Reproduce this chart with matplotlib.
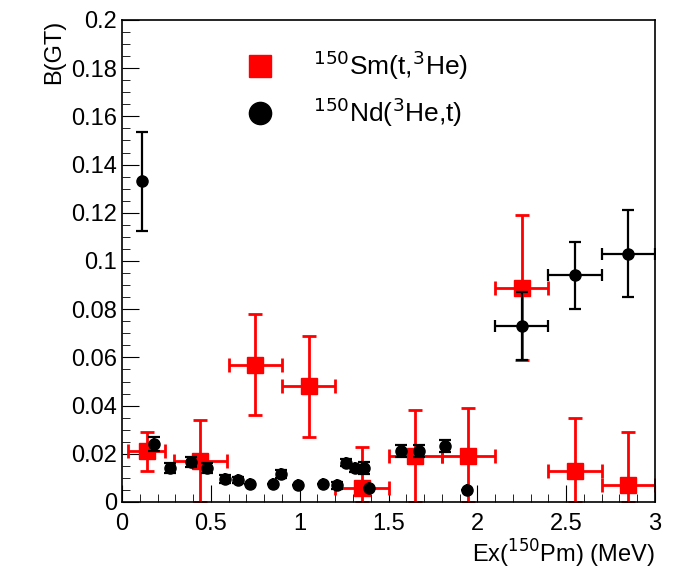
import numpy as np
import matplotlib.pyplot as plt
from matplotlib.ticker import MultipleLocator
from matplotlib.lines import Line2D

plt.rcParams['font.family'] = ['Liberation Sans', 'DejaVu Sans']

# 150Sm(t,3He)
sm_x = [0.14, 0.44, 0.75, 1.05, 1.35, 1.65, 1.95, 2.25, 2.55, 2.85]
sm_y = [0.021, 0.017, 0.057, 0.048, 0.006, 0.019, 0.019, 0.089, 0.013, 0.007]
sm_yerr = [0.008, 0.017, 0.021, 0.021, 0.017, 0.019, 0.020, 0.030, 0.022, 0.022]
sm_xlo = [0.105, 0.15, 0.15, 0.15, 0.15, 0.15, 0.15, 0.15, 0.15, 0.15]
sm_xhi = [0.10, 0.15, 0.15, 0.15, 0.15, 0.15, 0.15, 0.15, 0.15, 0.15]

# 150Nd(3He,t)
nd_x = [0.11, 0.18, 0.27, 0.39, 0.48, 0.58, 0.655, 0.72, 0.85, 0.895, 0.99,
        1.13, 1.21, 1.26, 1.31, 1.36, 1.39, 1.57, 1.67, 1.82, 1.94,
        2.25, 2.55, 2.85]
nd_y = [0.133, 0.024, 0.014, 0.0167, 0.014, 0.0095, 0.009, 0.0073, 0.0073, 0.0116,
        0.0069, 0.0076, 0.0069, 0.0163, 0.014, 0.014, 0.0057, 0.0213, 0.0213,
        0.0234, 0.0049, 0.073, 0.094, 0.103]
nd_yerr = [0.0205, 0.003, 0.002, 0.002, 0.002, 0.0015, 0.0012, 0, 0, 0.0015,
           0, 0, 0.0015, 0.0015, 0.0015, 0.0025, 0, 0.0025, 0.0025, 0.0025, 0,
           0.014, 0.014, 0.018]
nd_xerr = [0] * 21 + [0.15, 0.15, 0.15]

fig = plt.figure(figsize=(6.86, 5.82), dpi=100)
ax = fig.add_axes([122 / 686, 80 / 582, 533 / 686, 482 / 582])

sm_lo = np.minimum(sm_yerr, sm_y)
ax.errorbar(sm_x, sm_y, yerr=[sm_lo, sm_yerr], xerr=[sm_xlo, sm_xhi], fmt="s",
            color="red", ms=12, elinewidth=2, capsize=5, capthick=2, zorder=2)
ax.errorbar(nd_x, nd_y, yerr=nd_yerr, xerr=nd_xerr, fmt="o", color="black",
            ms=8, elinewidth=1.6, capsize=4, capthick=1.6, zorder=3)

ax.set_xlim(0, 3)
ax.set_ylim(0, 0.2)
ax.set_xticks(np.arange(0, 3.01, 0.5))
ax.set_xticklabels(["%g" % v for v in np.arange(0, 3.01, 0.5)])
ax.xaxis.set_minor_locator(MultipleLocator(0.1))
ax.set_yticks(np.arange(0, 0.201, 0.02))
ax.set_yticklabels(["0"] + ["%g" % v for v in np.arange(0.02, 0.201, 0.02)])
ax.yaxis.set_minor_locator(MultipleLocator(0.005))
ax.tick_params(which="both", direction="in", labelsize=17)
ax.tick_params(axis="x", pad=8)
ax.tick_params(which="major", length=12)
ax.tick_params(which="minor", length=6)
for sp in ax.spines.values():
    sp.set_linewidth(1.2)

ax.set_xlabel(r"Ex($^{150}$Pm) (MeV)", fontsize=17, loc="right", labelpad=2)
ax.set_ylabel("B(GT)", fontsize=17, loc="top")

handles = [Line2D([], [], ls="", marker="s", color="red", ms=16),
           Line2D([], [], ls="", marker="o", color="black", ms=16)]
labels = [r"$^{150}$Sm(t,$^{3}$He)", r"$^{150}$Nd($^{3}$He,t)"]
ax.legend(handles, labels, loc="upper left", bbox_to_anchor=(0.165, 0.99), frameon=False,
          fontsize=19, handletextpad=1.0, labelspacing=0.5)

fig.savefig("out.png", dpi=100)
